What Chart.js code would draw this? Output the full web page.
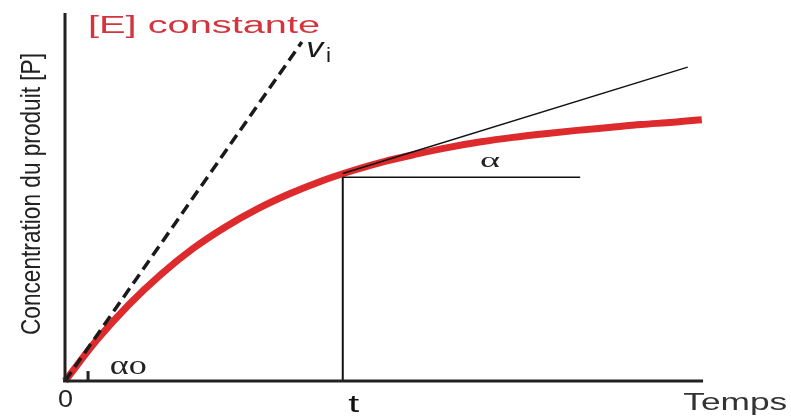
<!DOCTYPE html>
<html><head><meta charset="utf-8">
<script src="https://cdn.jsdelivr.net/npm/chart.js@4.4.1/dist/chart.umd.min.js"></script>
<style>html,body{margin:0;padding:0;background:#fff}#wrap{width:791px;height:419px;position:relative}</style>
</head><body><div id="wrap"><canvas id="c"></canvas></div>
<script>
// ---- data (arbitrary units) ----
const timeValues  = [0, 0.5, 1, 1.5, 2, 2.5, 3, 3.5, 4, 4.5, 5, 5.5, 6, 6.5, 7, 7.5, 8, 8.5, 9, 9.5, 9.95];
const productConc = [0, 1.12, 2.08, 2.9, 3.6, 4.18, 4.67, 5.08, 5.43, 5.72, 5.97, 6.17, 6.35, 6.5, 6.62, 6.72, 6.81, 6.89, 6.97, 7.03, 7.1];
const tickValues  = [0, 4.52];
const tickLabels  = ['0', 't'];
const tTime = 4.34;
const viLineX      = [0, 3.70];
const viLineY      = [0, 9.21];
const tangentX     = [4.34, 9.73];
const tangentY     = [5.64, 8.53];
const alphaLineX   = [4.34, 8.05];
const alphaLineY   = [5.54, 5.54];
const tLineX       = [4.34, 4.34];
const tLineY       = [0, 5.54];
const alpha0MarkX  = [0.36, 0.36];
const alpha0MarkY  = [0, 0.27];
const xAxisX       = [-0.03, 9.97];
const xAxisY       = [0, 0];
const yAxisX       = [0, 0];
const yAxisY       = [0, 10];

const pts = (xs, ys) => xs.map((v, i) => ({x: v, y: ys[i]}));

function fitText(ctx, text, left, base, font, targetW, color, sy) {
  ctx.save();
  ctx.font = font;
  ctx.fillStyle = color;
  ctx.textAlign = 'left';
  ctx.textBaseline = 'alphabetic';
  const w = ctx.measureText(text).width;
  ctx.translate(left, base);
  ctx.scale(targetW / w, sy || 1);
  ctx.fillText(text, 0, 0);
  ctx.restore();
}

const labelsPlugin = {
  id: 'labels',
  afterDatasetsDraw(chart) {
    const ctx = chart.ctx;
    const X = chart.scales.x, Y = chart.scales.y;
    const px = v => X.getPixelForValue(v), py = v => Y.getPixelForValue(v);
    const sans = 'Liberation Sans, Arial, sans-serif';
    const serif = 'Liberation Serif, Times New Roman, serif';
    // title
    fitText(ctx, '[E] constante', px(0.36), py(9.46), '23px ' + sans, 232, '#d3343e');
    // v_i
    fitText(ctx, 'v', px(3.77), py(8.80), 'italic 28px ' + sans, 17, '#1a1a1a');
    fitText(ctx, 'i', px(4.08), py(8.66), '21px ' + sans, 5, '#1a1a1a');
    // alpha
    fitText(ctx, 'α', px(6.64) - 10, py(5.82), '21px ' + serif, 20, '#222');
    fitText(ctx, 'αo', px(0.70), py(0.19), '27px ' + serif, 37, '#222');
    // tick labels
    fitText(ctx, tickLabels[0], px(tickValues[0]) - 7, py(-0.71), '23px ' + sans, 15, '#222');
    fitText(ctx, tickLabels[1], px(tickValues[1]) - 6, py(-0.84), '24px ' + sans, 11, '#111');
    // x axis title
    fitText(ctx, 'Temps', px(9.66), py(-0.79), '24px ' + sans, 104, '#333');
    // y axis title (rotated)
    ctx.save();
    ctx.translate(px(0) - 25, py(1.25));
    ctx.rotate(-Math.PI / 2);
    fitText(ctx, 'Concentration du produit [P]', 0, 0, '20px ' + sans, 282, '#222', 1.4);
    ctx.restore();
  }
};

const lineDs = (xs, ys, color, width, extra) => Object.assign({
  data: pts(xs, ys), borderColor: color, borderWidth: width, pointRadius: 0,
  fill: false, tension: 0, clip: false, order: 1, borderCapStyle: 'butt'
}, extra || {});

new Chart(document.getElementById('c'), {
  type: 'line',
  data: {
    datasets: [
      lineDs(xAxisX, xAxisY, '#222', 3),
      lineDs(yAxisX, yAxisY, '#222', 3),
      lineDs(viLineX, viLineY, '#1a1a1a', 3.5, {borderDash: [11, 6]}),
      lineDs(tangentX, tangentY, '#111', 1.5),
      lineDs(alphaLineX, alphaLineY, '#111', 1.5),
      lineDs(tLineX, tLineY, '#111', 2),
      lineDs(alpha0MarkX, alpha0MarkY, '#222', 3),
      {
        data: pts(timeValues, productConc), borderColor: '#dd2a2c', borderWidth: 7,
        pointRadius: 0, fill: false, cubicInterpolationMode: 'monotone', clip: false,
        order: 10, borderCapStyle: 'butt'
      }
    ]
  },
  options: {
    responsive: true, maintainAspectRatio: false, animation: false,
    layout: {padding: {left: 65, top: 13, right: 86, bottom: 38}},
    scales: {
      x: {type: 'linear', min: 0, max: 10, display: false},
      y: {type: 'linear', min: 0, max: 10, display: false}
    },
    plugins: {legend: {display: false}, tooltip: {enabled: false}}
  },
  plugins: [labelsPlugin]
});
</script>
</body></html>
